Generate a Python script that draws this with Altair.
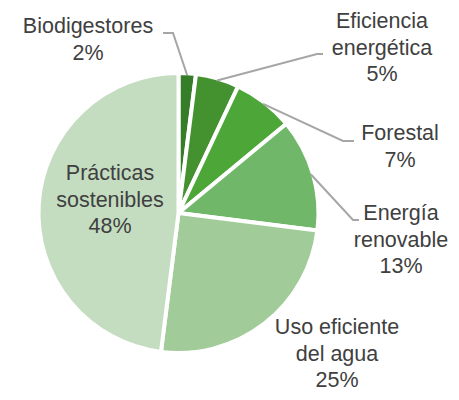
import math
import altair as alt
import pandas as pd

# ---- data ----
categories = ["Biodigestores", "Eficiencia energética", "Forestal",
              "Energía renovable", "Uso eficiente del agua", "Prácticas sostenibles"]
values = [2, 5, 7, 13, 25, 48]
label_lines = [["Biodigestores"], ["Eficiencia", "energética"], ["Forestal"],
               ["Energía", "renovable"], ["Uso eficiente", "del agua"],
               ["Prácticas", "sostenibles"]]
colors = ["#357d28", "#43922f", "#4ca638", "#71b76a", "#a1cc99", "#c4ddc0"]

# ---- layout (chart pixels) ----
W, H = 443, 384
CX, CY = 170.5, 205
R = 140          # arc radius (white stroke eats 2px)
R_EDGE = 138     # visible edge, where leader lines start
FONT = "Liberation Sans"
FS = 21.5
LH = 26.5
# label anchor: centre x, first-line baseline y
label_pos = [(80, 25), (374, 20), (392, 132), (393, 212), (329, 326), (102, 172)]
# leader line: elbow, end (None = no leader)
leaders = [((165, 25), (155, 25)), ((309, 46), (315, 46)),
           ((335, 133), (346, 133)), ((345, 212), (351, 212)), None, None]

total = sum(values)
pie_df = pd.DataFrame({"cat": categories, "val": values, "idx": list(range(len(values)))})

lab_rows = []
for i, c in enumerate(categories):
    txt = "\n".join(label_lines[i] + [f"{values[i]}%"])
    lab_rows.append({"cat": c, "txt": txt, "x": label_pos[i][0], "y": label_pos[i][1]})
lab_df = pd.DataFrame(lab_rows)

line_rows = []
cum = 0
for i, c in enumerate(categories):
    mid = (cum + values[i] / 2) / total * 2 * math.pi
    cum += values[i]
    if leaders[i] is None:
        continue
    sx = CX + R_EDGE * math.sin(mid)
    sy = CY - R_EDGE * math.cos(mid)
    pts = [(sx, sy), leaders[i][0], leaders[i][1]]
    for k, (px, py) in enumerate(pts):
        line_rows.append({"cat": c, "k": k, "x": px, "y": py})
line_df = pd.DataFrame(line_rows)

xs = alt.Scale(domain=[0, W], nice=False, zero=False)
ys = alt.Scale(domain=[0, H], nice=False, zero=False, reverse=True)

pie = alt.Chart(pie_df).mark_arc(radius=R, stroke="white", strokeWidth=4).encode(
    theta=alt.Theta("val:Q", stack=True),
    order=alt.Order("idx:Q"),
    color=alt.Color("cat:N", scale=alt.Scale(domain=categories, range=colors), legend=None),
    x=alt.value(CX),
    y=alt.value(CY),
)

lines = alt.Chart(line_df).mark_line(color="#a6a6a6", strokeWidth=2).encode(
    x=alt.X("x:Q", scale=xs, axis=None),
    y=alt.Y("y:Q", scale=ys, axis=None),
    detail="cat:N",
    order="k:Q",
)

labels = alt.Chart(lab_df).mark_text(
    font=FONT, fontSize=FS, color="#404040", align="center",
    baseline="alphabetic", lineBreak="\n", lineHeight=LH,
).encode(
    x=alt.X("x:Q", scale=xs, axis=None),
    y=alt.Y("y:Q", scale=ys, axis=None),
    text="txt:N",
)

chart = alt.layer(pie, lines, labels).properties(
    width=W, height=H, padding=0,
    autosize=alt.AutoSizeParams(type="none"),
).configure_view(stroke=None)

chart.save("out.html", embed_options={"renderer": "svg", "actions": False})
